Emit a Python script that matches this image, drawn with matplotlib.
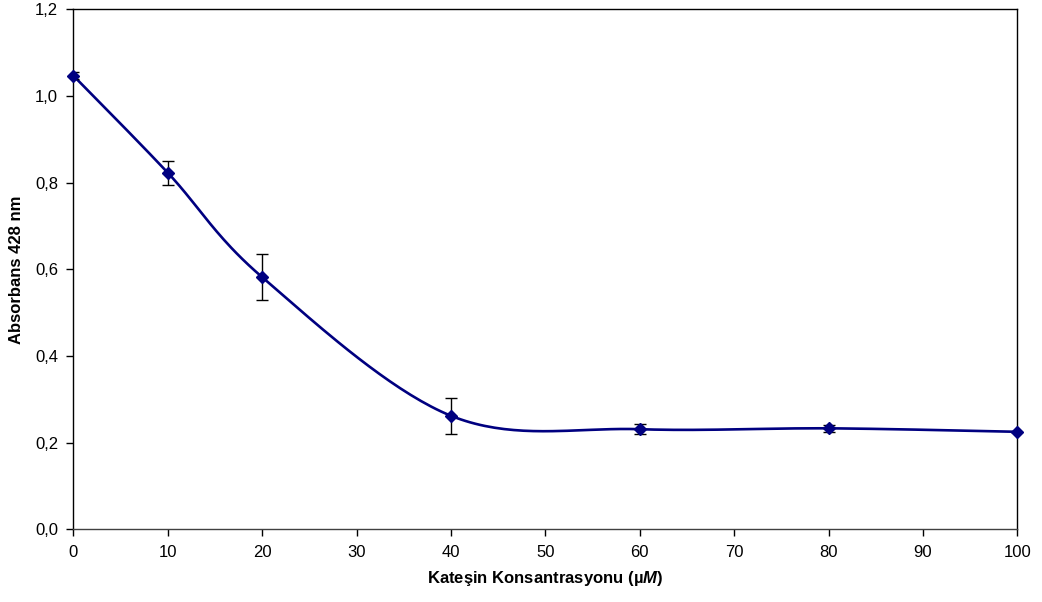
import numpy as np
import matplotlib
matplotlib.use('Agg')
import matplotlib.pyplot as plt
from matplotlib.ticker import FuncFormatter

plt.rcParams['font.family'] = ['Liberation Sans', 'DejaVu Sans']
plt.rcParams['mathtext.fontset'] = 'custom'
plt.rcParams['mathtext.rm'] = 'Liberation Sans'
plt.rcParams['mathtext.bfit'] = 'Liberation Sans:italic:bold'

# catechin concentration (uM) vs absorbance at 428 nm
konsantrasyon = [0, 10, 20, 40, 60, 80, 100]
absorbans = [1.047, 0.823, 0.582, 0.262, 0.231, 0.233, 0.225]
hata = [0.008, 0.028, 0.053, 0.042, 0.012, 0.008, 0.0]

xticks = [0, 10, 20, 30, 40, 50, 60, 70, 80, 90, 100]
yticks = [0.0, 0.2, 0.4, 0.6, 0.8, 1.0, 1.2]


def smooth(x, y, sx=9.44, sy=433.0, n=40):
    # Catmull-Rom style bezier through the points, worked out in screen-ish units
    p = np.column_stack([np.asarray(x) * sx, np.asarray(y) * sy])
    out = []
    for i in range(len(p) - 1):
        p0 = p[i - 1] if i > 0 else p[i]
        p1, p2 = p[i], p[i + 1]
        p3 = p[i + 2] if i + 2 < len(p) else p[i + 1]
        c1 = p1 + (p2 - p0) / 6.0
        c2 = p2 - (p3 - p1) / 6.0
        t = np.linspace(0, 1, n)[:, None]
        seg = ((1 - t) ** 3 * p1 + 3 * (1 - t) ** 2 * t * c1
               + 3 * (1 - t) * t ** 2 * c2 + t ** 3 * p2)
        out.append(seg if i == 0 else seg[1:])
    out = np.vstack(out)
    return out[:, 0] / sx, out[:, 1] / sy


fig = plt.figure(figsize=(10.42, 6.02), dpi=100)
ax = fig.add_axes([0.0704, 0.1208, 0.9059, 0.8636])

sx, sy = smooth(konsantrasyon, absorbans)
ax.plot(sx, sy, color='#000080', lw=1.9, zorder=2)
ax.errorbar(konsantrasyon, absorbans, yerr=hata, fmt='none', ecolor='black',
            elinewidth=1.0, capsize=4, capthick=1.0, zorder=3)
ax.plot(konsantrasyon, absorbans, 'D', color='#000080', markersize=6.5,
        zorder=4, clip_on=False)

ax.set_xlim(0, 100)
ax.set_ylim(0, 1.2)
ax.set_xticks(xticks)
ax.set_yticks(yticks)
ax.yaxis.set_major_formatter(FuncFormatter(lambda v, p: f'{v:.1f}'.replace('.', ',')))
ax.tick_params(direction='out', length=5, width=1, labelsize=12, pad=6,
               colors='black')
for s in ax.spines.values():
    s.set_linewidth(1.0)
    s.set_color('black')
ax.spines['bottom'].set_color('#404040')

ax.set_xlabel('Kateşin Konsantrasyonu (µ$\\mathbfit{M}$)', fontsize=12,
              fontweight='bold', labelpad=7)
ax.set_ylabel('Absorbans 428 nm', fontsize=12, fontweight='bold', labelpad=8)

fig.savefig('out.png', dpi=100)
